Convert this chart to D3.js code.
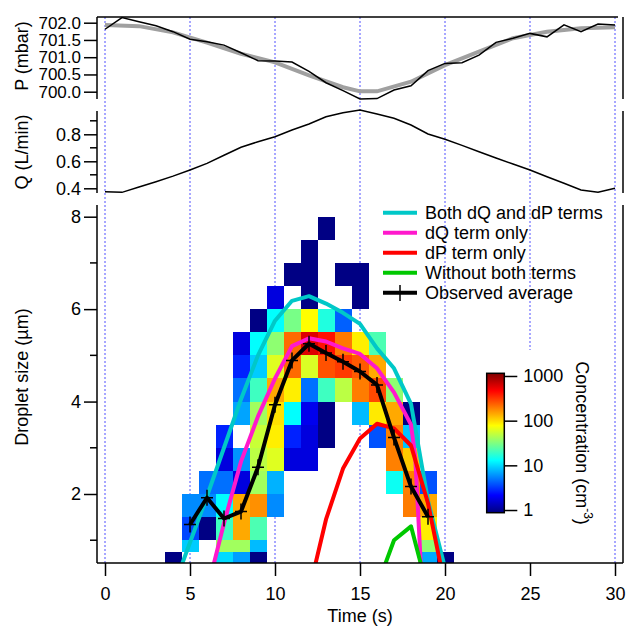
<!DOCTYPE html>
<html>
<head>
<meta charset="utf-8">
<script src="https://cdn.jsdelivr.net/npm/d3@7"></script>
<style>
body { margin: 0; background: #fff; }
text { font-family: "Liberation Sans", Arial, sans-serif; }
</style>
</head>
<body>
<div id="chart"></div>
<script>

///////////  DATA  ///////////

// Time axis of the pressure / flow traces (s)
var traceTime = [0, 1, 2, 3, 4, 5, 6, 7, 8, 9, 10, 11, 12, 13, 14, 15, 16, 17, 18, 19, 20, 21, 22, 23, 24, 25, 26, 27, 28, 29, 30];

// Measured pressure (mbar)
var pressureObs = [701.81, 702.15, 702.03, 701.91, 701.74, 701.52, 701.45, 701.35, 701.13, 700.90, 700.89,
    700.86, 700.59, 700.26, 700.03, 699.79, 699.80, 700.05, 700.17, 700.61, 700.82,
    700.84, 701.06, 701.43, 701.55, 701.69, 701.59, 701.94, 701.74, 701.96, 701.93];

// Smoothed pressure (grey curve)
var pressureFitTime = [0, 2, 4, 6, 8, 10, 12, 14, 15, 16, 18, 20, 22, 24, 26, 28, 30];
var pressureFit = [701.93, 701.90, 701.72, 701.42, 701.10, 700.85, 700.47, 700.13, 700.01, 700.01, 700.29, 700.77, 701.16, 701.55, 701.74, 701.84, 701.87];

// Flow rate (L/min)
var flowQ = [0.375, 0.37, 0.41, 0.449, 0.49, 0.536, 0.585, 0.645, 0.704, 0.745, 0.782,
    0.832, 0.876, 0.93, 0.96, 0.98, 0.95, 0.919, 0.869, 0.802, 0.763,
    0.718, 0.671, 0.625, 0.58, 0.536, 0.486, 0.437, 0.387, 0.37, 0.40];

// Size distribution cells: one column per second, size bin edges in um
var cellTime = [4, 5, 6, 7, 8, 9, 10, 11, 12, 13, 14, 15, 16, 17, 18, 19, 20];
var sizeEdges = [0.5, 0.75, 1, 1.5, 2, 2.5, 3, 3.5, 4, 4.5, 5, 5.5, 6, 6.5, 7, 7.5, 8];

// Concentration (cm-3) per size bin, bottom bin first, null = no droplets
var bin0 = [0.9, null, null, 10, 6.5, 0.9, null, null, null, null, null, null, null, null, null, 7.1, 0.9];
var bin1 = [null, 9, null, 40, 40, 8, null, null, null, null, null, null, null, null, null, 35, null];
var bin2 = [null, 3.5, 0.9, 20, 142, 22, null, null, null, null, null, null, null, null, null, 87, null];
var bin3 = [null, 5.7, 5.7, 13, 142, 170, 5.7, null, null, null, null, null, null, null, 195, 142, null];
var bin4 = [null, null, 4.7, 4.7, 1.7, 40, 7.5, null, null, null, null, null, null, 14, 190, 3.8, null];
var bin5 = [null, null, null, 1.7, 6, 48, 62, 1.7, 1.7, null, null, null, null, 190, 113, null, null];
var bin6 = [null, null, null, 2.7, null, 53, 87, 2.7, 1.7, 0.9, null, null, 3.8, 190, 8.5, null, null];
var bin7 = [null, null, null, null, 6.8, 40, 95, 13, 1.9, 0.9, null, 8, 90, 142, 0.9, null, null];
var bin8 = [null, null, null, null, 4.7, 20, 142, 87, 4.7, 20, 48, 195, 280, 35, null, null, null];
var bin9 = [null, null, null, null, 2.7, 9, 62, 221, 60, 265, 310, 250, 142, null, null, null, null];
var bin10 = [null, null, null, null, 1.7, 13, 35, 221, 590, 415, 200, 87, 22, null, null, null, null];
var bin11 = [null, null, null, null, null, 0.9, 13, 30, 78, 16, 4.2, null, null, null, null, null, null];
var bin12 = [null, null, null, null, null, null, 1.7, null, 0.9, null, null, 0.9, null, null, null, null, null];
var bin13 = [null, null, null, null, null, null, null, 0.9, 0.9, null, 0.9, 0.9, null, null, null, null, null];
var bin14 = [null, null, null, null, null, null, null, null, 0.9, null, null, null, null, null, null, null, null];
var bin15 = [null, null, null, null, null, null, null, null, null, 0.9, null, null, null, null, null, null, null];
var sizeBins = [bin0, bin1, bin2, bin3, bin4, bin5, bin6, bin7, bin8, bin9, bin10, bin11, bin12, bin13, bin14, bin15];

// Model curves (droplet size, um)
var bothTime = [4, 5, 6, 7, 8, 9, 10, 11, 12, 13, 14, 15, 16, 17, 18, 19, 20];
var bothSize = [-0.05, 0.95, 1.95, 3.0, 4.05, 5.0, 5.75, 6.18, 6.28, 6.12, 5.92, 5.68, 5.15, 4.72, 3.95, 1.85, 0.4];
var dqTime = [6, 7, 8, 9, 10, 11, 12, 13, 14, 15, 16, 17, 18, 18.25, 18.6];
var dqSize = [-0.1, 1.37, 2.7, 3.68, 4.5, 5.2, 5.37, 5.3, 5.15, 5.03, 4.72, 4.2, 3.5, 2.8, 0.3];
var dpTime = [12, 13, 14, 15, 16, 17, 18, 19, 20];
var dpSize = [-0.1, 1.45, 2.55, 3.2, 3.52, 3.42, 3.05, 1.8, 0.0];
var noneTime = [16, 17, 18, 19];
var noneSize = [0.0, 1.0, 1.3, -0.1];

// Observed average size
var obsTime = [5, 6, 7, 8, 9, 10, 11, 12, 13, 14, 15, 16, 17, 18, 19];
var obsSize = [1.34, 1.92, 1.47, 1.62, 2.58, 3.93, 4.89, 5.25, 5.05, 4.86, 4.65, 4.36, 3.22, 2.16, 1.51];

// Legend
var legendNames = ["Both dQ and dP terms", "dQ term only", "dP term only", "Without both terms", "Observed average"];
var legendColors = ["#00c8c8", "#ff19cc", "#ff0000", "#00c800", "#000000"];

// Tick labels
var timeTicks = [0, 5, 10, 15, 20, 25, 30];
var pressureTicks = [700, 700.5, 701, 701.5, 702];
var flowTicks = [0.4, 0.6, 0.8];
var flowMinor = [0.5, 0.7, 0.9];
var sizeTicks = [2, 4, 6, 8];
var sizeMinor = [1, 3, 5, 7];
var concTicks = [1, 10, 100, 1000];


///////////  SVG  ///////////

var svgWidth = 626;
var svgHeight = 627;

// left/right axis positions and panel extents (px)
var axisLeftX = 97;
var axisRightX = 623;
var panelP = [17, 99];
var panelQ = [111, 193];
var panelS = [205, 563];

var SVG = d3.select("#chart").append("svg")
    .attr("width", svgWidth)
    .attr("height", svgHeight);

SVG.append("rect").attr("width", svgWidth).attr("height", svgHeight).attr("fill", "#fff");

// Scales
var xScale = d3.scaleLinear().domain([0, 30]).range([105, 615]);
var yP = d3.scaleLinear().domain([700, 702]).range([91.7, 22.7]);
var yQ = d3.scaleLinear().domain([0.4, 0.8]).range([188.3, 134.3]);
var yS = d3.scaleLinear().domain([2, 8]).range([494, 216.7]);
var cScale = d3.scaleLog().domain([Math.pow(10, -0.06), Math.pow(10, 3.06)]).range([0, 1]).clamp(true);

// Jet colour map
function jet(t)
{
    var c = function(v) { return Math.round(255 * Math.max(0, Math.min(1, v))); };
    var r = Math.min(4 * t - 1.5, -4 * t + 4.5);
    var g = Math.min(4 * t - 0.5, -4 * t + 3.5);
    var b = Math.min(4 * t + 0.5, -4 * t + 2.5);
    return "rgb(" + c(r) + "," + c(g) + "," + c(b) + ")";
}


///////////  GRID  ///////////

SVG.append("g").selectAll("line").data(timeTicks).enter().append("line")
    .attr("x1", d => xScale(d)).attr("x2", d => xScale(d))
    .attr("y1", panelP[0]).attr("y2", panelS[1])
    .attr("stroke", "#5050ff")
    .attr("stroke-width", 1)
    .attr("stroke-dasharray", "2,2");


///////////  HEATMAP  ///////////

var cells = [];
sizeBins.forEach(function(row, i)
{
    row.forEach(function(v, j)
    {
        if (v !== null) cells.push({ t: cellTime[j], lo: sizeEdges[i], hi: sizeEdges[i + 1], c: v });
    });
});

SVG.append("g").attr("shape-rendering", "crispEdges")
    .selectAll("rect").data(cells).enter().append("rect")
    .attr("x", d => xScale(d.t - 0.5))
    .attr("width", d => xScale(d.t + 0.5) - xScale(d.t - 0.5))
    .attr("y", d => yS(d.hi))
    .attr("height", d => yS(d.lo) - yS(d.hi))
    .attr("fill", d => jet(cScale(d.c)));

// white box behind the colour bar
SVG.append("rect").attr("x", 472).attr("y", 350).attr("width", 136).attr("height", panelS[1] - 350).attr("fill", "#fff");


///////////  TRACES  ///////////

// Pressure panel
var pLine = d3.line().x(d => xScale(d[0])).y(d => yP(d[1]));
SVG.append("path")
    .attr("d", pLine(d3.zip(pressureFitTime, pressureFit)))
    .attr("fill", "none").attr("stroke", "#a0a0a0").attr("stroke-width", 4);
SVG.append("path")
    .attr("d", pLine(d3.zip(traceTime, pressureObs)))
    .attr("fill", "none").attr("stroke", "#000").attr("stroke-width", 1.5);

// Flow panel
var qLine = d3.line().x(d => xScale(d[0])).y(d => yQ(d[1]));
SVG.append("path")
    .attr("d", qLine(d3.zip(traceTime, flowQ)))
    .attr("fill", "none").attr("stroke", "#000").attr("stroke-width", 1.5);

// Size panel curves, clipped to the plot area
SVG.append("clipPath").attr("id", "clipS").append("rect")
    .attr("x", axisLeftX).attr("y", panelS[0]).attr("width", axisRightX - axisLeftX).attr("height", panelS[1] - panelS[0]);

var sLine = d3.line().x(d => xScale(d[0])).y(d => yS(d[1]));
var curveGrp = SVG.append("g").attr("clip-path", "url(#clipS)");

var modelCurves = [
    d3.zip(bothTime, bothSize),
    d3.zip(dqTime, dqSize),
    d3.zip(dpTime, dpSize),
    d3.zip(noneTime, noneSize)
];

modelCurves.forEach(function(curve, i)
{
    curveGrp.append("path")
        .attr("d", sLine(curve))
        .attr("fill", "none")
        .attr("stroke", legendColors[i])
        .attr("stroke-width", 4)
        .attr("stroke-linejoin", "round");
});

var obsData = d3.zip(obsTime, obsSize);
curveGrp.append("path")
    .attr("d", sLine(obsData))
    .attr("fill", "none").attr("stroke", "#000").attr("stroke-width", 4).attr("stroke-linejoin", "round");

curveGrp.selectAll(".obsMark").data(obsData).enter().append("path")
    .attr("class", "obsMark")
    .attr("transform", d => `translate(${xScale(d[0])}, ${yS(d[1])})`)
    .attr("d", "M-6,0H6M0,-8V8")
    .attr("stroke", "#000").attr("stroke-width", 1.5);


///////////  AXES  ///////////

function styleAxis(g)
{
    g.select(".domain").remove();
    g.attr("font-size", 18);
    g.selectAll("line").attr("stroke", "#000").attr("stroke-width", 1.5);
    g.selectAll("text").attr("fill", "#000");
}

function vline(x, y1, y2)
{
    SVG.append("line").attr("x1", x).attr("x2", x).attr("y1", y1).attr("y2", y2)
        .attr("stroke", "#000").attr("stroke-width", 1.5);
}

function minorTicks(values, scale)
{
    SVG.append("g").selectAll("line").data(values).enter().append("line")
        .attr("x1", axisLeftX - 7).attr("x2", axisLeftX)
        .attr("y1", d => scale(d)).attr("y2", d => scale(d))
        .attr("stroke", "#000").attr("stroke-width", 1.5);
}

// P axis (labels packed tightly, slightly smaller)
SVG.append("g").attr("transform", `translate(${axisLeftX}, 0)`)
    .call(d3.axisLeft(yP).tickValues(pressureTicks).tickFormat(d3.format(".1f")).tickSize(13).tickPadding(3))
    .call(styleAxis)
    .attr("font-size", 17);
vline(axisLeftX, panelP[0], panelP[1]);
vline(axisRightX, panelP[0], panelP[1]);
SVG.append("line").attr("x1", axisLeftX).attr("x2", 618).attr("y1", panelP[0]).attr("y2", panelP[0])
    .attr("stroke", "#000").attr("stroke-width", 1.5);

// Q axis
SVG.append("g").attr("transform", `translate(${axisLeftX}, 0)`)
    .call(d3.axisLeft(yQ).tickValues(flowTicks).tickFormat(d3.format(".1f")).tickSize(13).tickPadding(3))
    .call(styleAxis);
minorTicks(flowMinor, yQ);
vline(axisLeftX, panelQ[0], panelQ[1]);
vline(axisRightX, panelQ[0], panelQ[1]);

// Size axis
SVG.append("g").attr("transform", `translate(${axisLeftX}, 0)`)
    .call(d3.axisLeft(yS).tickValues(sizeTicks).tickFormat(d3.format("d")).tickSize(13).tickPadding(3))
    .call(styleAxis);
minorTicks(sizeMinor, yS);
vline(axisLeftX, panelS[0], panelS[1]);
vline(axisRightX, panelS[0], panelS[1]);

// Time axis
SVG.append("g").attr("transform", `translate(0, ${panelS[1]})`)
    .call(d3.axisBottom(xScale).tickValues(timeTicks).tickFormat(d3.format("d")).tickSize(13).tickPadding(11))
    .call(styleAxis);
SVG.append("line").attr("x1", axisLeftX).attr("x2", axisRightX).attr("y1", panelS[1]).attr("y2", panelS[1])
    .attr("stroke", "#000").attr("stroke-width", 1.5);

// Axis titles
var yTitles = [["P (mbar)", 56], ["Q (L/min)", 152], ["Droplet size (\u00b5m)", 377]];
yTitles.forEach(function(tt)
{
    SVG.append("text")
        .attr("transform", `translate(28, ${tt[1]}) rotate(-90)`)
        .attr("text-anchor", "middle")
        .attr("font-size", 18)
        .text(tt[0]);
});

SVG.append("text").attr("x", 360).attr("y", 622).attr("text-anchor", "middle")
    .attr("font-size", 18).text("Time (s)");


///////////  LEGEND  ///////////

var legendGrp = SVG.append("g");
legendNames.forEach(function(name, i)
{
    var ly = 212.7 + i * 20;
    legendGrp.append("line").attr("x1", 383).attr("x2", 417).attr("y1", ly).attr("y2", ly)
        .attr("stroke", legendColors[i]).attr("stroke-width", 4);
    legendGrp.append("text").attr("x", 425).attr("y", ly + 6.5).attr("font-size", 18).text(name);
});
legendGrp.append("line").attr("x1", 400).attr("x2", 400).attr("y1", 285).attr("y2", 301)
    .attr("stroke", "#000").attr("stroke-width", 1.5);


///////////  COLOUR BAR  ///////////

var barTop = 373.3, barBottom = 512.7, barLeft = 486.7, barRight = 504.3;
var grad = SVG.append("defs").append("linearGradient").attr("id", "jetGrad")
    .attr("x1", 0).attr("y1", 1).attr("x2", 0).attr("y2", 0);
d3.range(0, 1.0001, 0.025).forEach(function(s)
{
    grad.append("stop").attr("offset", s).attr("stop-color", jet(s));
});

SVG.append("rect").attr("x", barLeft).attr("y", barTop)
    .attr("width", barRight - barLeft).attr("height", barBottom - barTop)
    .attr("fill", "url(#jetGrad)").attr("stroke", "#000").attr("stroke-width", 1.5);

var barScale = d3.scaleLog().domain(cScale.domain()).range([barBottom, barTop]);
SVG.append("g").attr("transform", `translate(${barRight}, 0)`)
    .call(d3.axisRight(barScale).tickValues(concTicks).tickFormat(d3.format("d")).tickSize(13).tickPadding(6))
    .call(styleAxis);

var cTitle = SVG.append("text")
    .attr("transform", "translate(576, 443) rotate(90)")
    .attr("text-anchor", "middle")
    .attr("font-size", 18);
cTitle.append("tspan").text("Concentration (cm");
cTitle.append("tspan").attr("font-size", 12).attr("dy", -8).text("-3");
cTitle.append("tspan").attr("dy", 8).text(")");

</script>
</body>
</html>
